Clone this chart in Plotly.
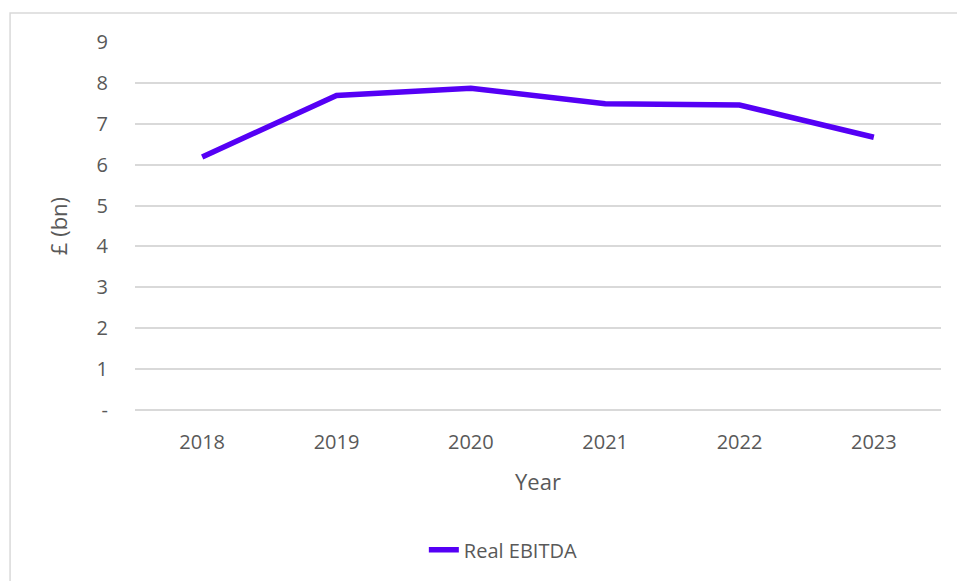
import plotly.graph_objects as go

# Real EBITDA by year, £ billions
years = ["2018", "2019", "2020", "2021", "2022", "2023"]
ebitda = [6.19, 7.69, 7.87, 7.49, 7.46, 6.67]

y_tick_vals = [0, 1, 2, 3, 4, 5, 6, 7, 8, 9]
y_tick_text = ["-", "1", "2", "3", "4", "5", "6", "7", "8", "9"]

FONT = "Open Sans"
TEXT = "#595959"
GRID = "#d9d9d9"
LINE = "#5500F5"

fig = go.Figure()
fig.add_trace(go.Scatter(
    x=years, y=ebitda, mode="lines", name="Real EBITDA",
    line=dict(color=LINE, width=5.5),
))

fig.update_layout(
    width=957, height=581,
    margin=dict(l=135, r=16, t=42, b=171),
    paper_bgcolor="white", plot_bgcolor="white",
    font=dict(family=FONT, color=TEXT, size=20),
    showlegend=True,
    legend=dict(
        orientation="h", x=0.457, xanchor="center", y=-0.38, yanchor="middle",
        font=dict(family=FONT, size=20, color=TEXT),
    ),
    xaxis=dict(
        type="category", range=[-0.5, 5.5],
        showgrid=False, showline=False, ticks="", zeroline=False,
        tickfont=dict(size=20, color=TEXT),
        ticklabelstandoff=18,
        title=dict(text="Year", font=dict(size=22, color=TEXT), standoff=20),
    ),
    yaxis=dict(
        range=[0, 9], tickvals=y_tick_vals, ticktext=y_tick_text,
        showgrid=True, gridcolor=GRID, gridwidth=1.6,
        zeroline=True, zerolinecolor=GRID, zerolinewidth=1.6,
        showline=False, ticks="",
        tickfont=dict(size=20, color=TEXT),
        ticklabelstandoff=26,
        title=dict(text="£ (bn)", font=dict(size=22, color=TEXT), standoff=22),
    ),
    shapes=[dict(
        type="rect", xref="paper", yref="paper",
        x0=-0.155, x1=1.05, y0=-0.6, y1=1.0788,
        line=dict(color=GRID, width=1.5), fillcolor="rgba(0,0,0,0)", layer="below",
    )],
)

fig.write_html("out.html")
